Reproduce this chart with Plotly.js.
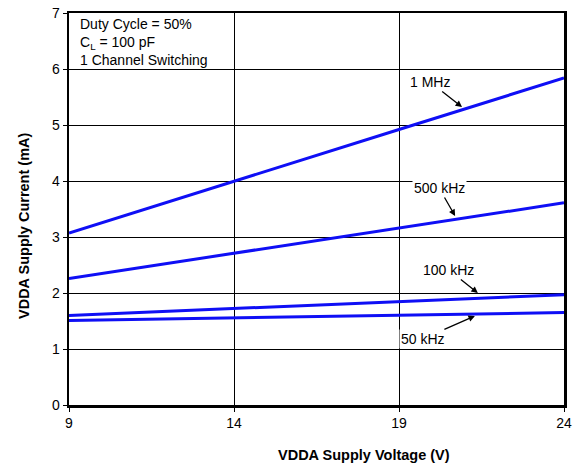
<!DOCTYPE html>
<html><head><meta charset="utf-8">
<script src="https://cdn.plot.ly/plotly-3.0.1.min.js"></script>
<style>html,body{margin:0;padding:0;background:#fff}#chart{width:585px;height:467px}</style>
</head><body><div id="chart"></div>
<script>
var voltage = [9, 14, 19, 24];
var i1MHz = [3.07, 4.00, 4.92, 5.84];
var i500kHz = [2.26, 2.71, 3.16, 3.61];
var i100kHz = [1.60, 1.72, 1.85, 1.97];
var i50kHz = [1.51, 1.56, 1.60, 1.65];
var seriesNames = ['1 MHz', '500 kHz', '100 kHz', '50 kHz'];
var seriesVals = [i1MHz, i500kHz, i100kHz, i50kHz];
var xTicks = [9, 14, 19, 24];
var yTicks = [0, 1, 2, 3, 4, 5, 6, 7];
var xTitle = 'VDDA Supply Voltage (V)';
var yTitle = 'VDDA Supply Current (mA)';

var traces = seriesVals.map(function(v, i){
  return {x: voltage, y: v, name: seriesNames[i], mode: 'lines', type: 'scatter',
    line: {color: 'rgb(15,15,245)', width: 3}, cliponaxis: false};
});
var fam = 'Liberation Sans, Arial, sans-serif';
var font = {family: fam, size: 14, color: '#000'};
var tfont = {family: fam, size: 14.5, color: '#000'};
function lab(text, x, y, ax, ay){
  return {x: x, y: y, xref: 'x', yref: 'y', text: text, showarrow: true, arrowhead: 2,
    arrowsize: 1, arrowwidth: 1.3, arrowcolor: '#000', ax: ax, ay: ay, bgcolor: '#fff',
    font: font, borderpad: 1};
}
var layout = {
  width: 585, height: 467,
  margin: {l: 69, r: 21, t: 13, b: 62},
  paper_bgcolor: '#fff', plot_bgcolor: '#fff',
  showlegend: false, font: font,
  xaxis: {range: [9, 24], tickvals: xTicks, ticktext: xTicks.map(String), showgrid: true,
    gridcolor: '#000', gridwidth: 1, showline: true, linecolor: '#000', linewidth: 2.5,
    mirror: true, ticks: 'outside', ticklen: 4, tickcolor: '#000', zeroline: false,
    tickfont: font},
  yaxis: {range: [0, 7], tickvals: yTicks, showgrid: true, gridcolor: '#000', gridwidth: 1,
    showline: true, linecolor: '#000', linewidth: 2.5, mirror: true, ticks: 'outside',
    ticklen: 4, tickcolor: '#000', zeroline: false, tickfont: font},
  annotations: [
    lab('1 MHz', 20.91, 5.32, -32, -25),
    lab('500 kHz', 20.70, 3.375, -16, -28),
    lab('100 kHz', 21.39, 2.0, -29, -23),
    lab('50 kHz', 21.3, 1.59, -52, 23),
    {xref: 'paper', yref: 'paper', x: 0, y: 1, xanchor: 'left', yanchor: 'top', xshift: 9, yshift: -1,
     showarrow: false, align: 'left', font: font,
     text: 'Duty Cycle = 50%<br>C<sub>L</sub> = 100 pF<br>1 Channel Switching'},
    {xref: 'paper', yref: 'paper', x: 0.595, y: -0.1276, xanchor: 'center', yanchor: 'middle',
     showarrow: false, font: tfont, text: '<b>' + xTitle + '</b>'},
    {xref: 'paper', yref: 'paper', x: -0.0909, y: 0.4566, xanchor: 'center', yanchor: 'middle',
     textangle: -90, showarrow: false, font: tfont, text: '<b>' + yTitle + '</b>'}
  ]
};
Plotly.newPlot('chart', traces, layout, {staticPlot: true});
</script></body></html>
